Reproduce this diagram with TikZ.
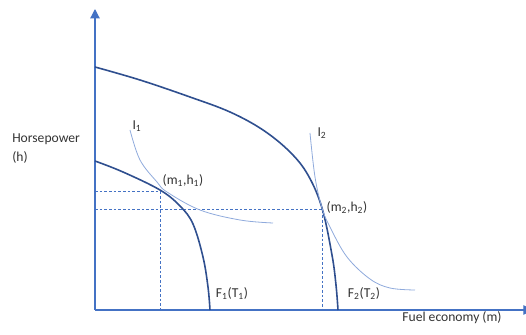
\documentclass[tikz,border=0pt]{standalone}
\usepackage{fontspec}
\setmainfont{Carlito}
\usetikzlibrary{arrows.meta}
\definecolor{AxisBlue}{HTML}{4472C4}
\definecolor{CurveNavy}{HTML}{2F4F8F}
\definecolor{IndiffBlue}{HTML}{8FAADC}

\tikzset{
  axis/.style={color=AxisBlue, line width=0.9pt},
  frontier/.style={color=CurveNavy, line width=1.2pt},
  indiff/.style={color=IndiffBlue, line width=0.6pt},
  guide/.style={color=AxisBlue, dash pattern=on 2pt off 1.5pt, line width=0.5pt},
  lbl/.style={font=\fontsize{10.2}{12}\selectfont, inner sep=0pt, text=black!80}
}

\begin{document}
\begin{tikzpicture}[x=0.75pt, y=-0.75pt]
  \useasboundingbox (0,0) rectangle (526,335);

  % axes
  \coordinate (O) at (95,310);
  \coordinate (ytop) at (95,9);
  \coordinate (xend) at (534,310);
  \draw[axis, -{Triangle[width=7pt, length=7pt]}] (O) -- (ytop);
  \draw[axis, -{Triangle[width=7pt, length=8pt]}] (O) -- (xend);

  % tangency points
  \coordinate (p1) at (160,191);
  \coordinate (p2) at (322,209);

  % guide lines
  \draw[guide] (O |- p1) -- (p1) -- (p1 |- O);
  \draw[guide] (O |- p2) -- (p2) -- (p2 |- O);

  % production frontiers
  \draw[frontier] plot[smooth, tension=0.6] coordinates {(95,67) (140,80) (190,97) (230,112) (263,130) (290,152) (308,175) (322,208) (332,255) (336,285) (338,310)};
  \draw[frontier] plot[smooth, tension=0.6] coordinates {(95,161) (123,172) (160,190) (180,206) (193,224) (203,257) (208,287) (210,310)};

  % indifference curves
  \draw[indiff] plot[smooth, tension=0.6] coordinates {(130,130) (140,160) (157,182) (167,192) (200,210) (240,220) (273,223)};
  \draw[indiff] plot[smooth, tension=0.6] coordinates {(310,133) (315,177) (322,208) (330,227) (347,257) (370,279) (390,288) (415,290)};

  % labels
  \node[lbl, anchor=north west, align=left] (hp) at (12,134) {Horsepower\\[2pt](h)};
  \node[lbl] (fe) at (452,318) {Fuel economy (m)};
  \node[lbl] (i1) at (137,126) {I\textsubscript{1}};
  \node[lbl] (i2) at (322,133) {I\textsubscript{2}};
  \node[lbl] (pt1) at (183,181) {(m\textsubscript{1},h\textsubscript{1})};
  \node[lbl] (pt2) at (347,208) {(m\textsubscript{2},h\textsubscript{2})};
  \node[lbl] (f1) at (232,294) {F\textsubscript{1}(T\textsubscript{1})};
  \node[lbl] (f2) at (364,294) {F\textsubscript{2}(T\textsubscript{2})};
\end{tikzpicture}
\end{document}
